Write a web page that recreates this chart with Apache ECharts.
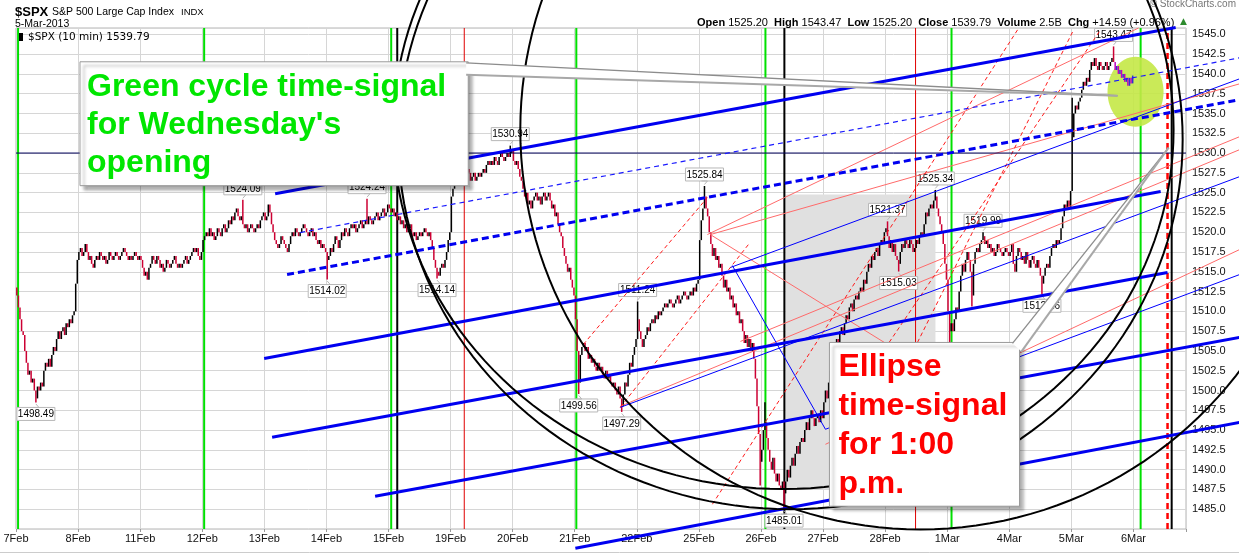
<!DOCTYPE html>
<html>
<head>
<meta charset="utf-8">
<script src="https://cdn.jsdelivr.net/npm/echarts@6/dist/echarts.min.js"></script>
<style>html,body{margin:0;padding:0;background:#fff}#c{width:1239px;height:554px}</style>
</head>
<body>
<div id="c"></div>
<script>
// ---------------- DATA ----------------
const BARS_PER_DAY = 39;           // 10-minute bars per session
const TOTAL_SLOTS = 735;           // 18 sessions + part of 6Mar (empty)
const dayLabels = ['7Feb','8Feb','11Feb','12Feb','13Feb','14Feb','15Feb','19Feb','20Feb','21Feb','22Feb','25Feb','26Feb','27Feb','28Feb','1Mar','4Mar','5Mar','6Mar'];
const Y_MIN = 1482.5, Y_MAX = 1545.8, Y_STEP = 2.5;

const firstOpen = 1513.0;
const close7Feb  = [1512.0,1510.5,1509.0,1507.5,1507.0,1505.0,1503.5,1502.0,1502.5,1501.0,1501.5,1500.0,1499.0,1500.5,1500.0,1501.0,1500.5,1502.5,1503.5,1503.0,1504.0,1503.0,1504.5,1505.5,1505.0,1506.5,1507.5,1506.5,1507.5,1508.0,1507.0,1508.5,1508.0,1509.0,1508.5,1509.5,1510.0,1513.5,1516.5];
const close8Feb  = [1517.5,1518.0,1517.0,1517.5,1518.5,1517.5,1516.5,1517.0,1516.0,1515.5,1516.5,1517.0,1516.5,1517.5,1517.0,1516.5,1517.0,1516.0,1516.5,1517.5,1517.0,1516.5,1517.0,1517.5,1517.0,1516.5,1517.0,1517.5,1518.0,1517.5,1517.0,1516.5,1517.0,1516.5,1517.0,1517.5,1517.0,1516.5,1517.0];
const close11Feb = [1516.5,1515.5,1514.5,1515.0,1514.0,1515.5,1516.0,1517.0,1516.5,1516.0,1517.0,1516.5,1515.5,1516.0,1515.0,1515.5,1516.5,1516.0,1515.5,1516.0,1516.5,1517.0,1516.0,1515.5,1516.0,1515.5,1516.0,1516.5,1517.0,1516.0,1516.5,1517.0,1517.5,1518.0,1517.5,1518.0,1517.0,1516.5,1517.5];
const close12Feb = [1519.0,1519.5,1520.0,1519.5,1520.5,1519.5,1520.0,1519.0,1519.5,1520.5,1520.0,1519.5,1520.5,1521.0,1520.0,1520.5,1521.5,1521.0,1522.0,1521.5,1522.5,1523.0,1522.0,1521.5,1522.0,1521.0,1520.5,1521.0,1520.0,1520.5,1521.0,1520.5,1520.0,1520.5,1521.0,1520.5,1521.5,1522.0,1522.5];
const close13Feb = [1521.5,1522.0,1523.5,1522.5,1521.0,1520.0,1519.0,1518.5,1518.0,1518.5,1519.5,1519.0,1518.5,1518.0,1517.5,1518.5,1519.5,1520.0,1519.5,1520.5,1520.0,1519.5,1520.0,1520.5,1521.0,1520.5,1520.0,1519.5,1520.0,1520.5,1519.5,1520.0,1519.0,1518.5,1519.0,1518.0,1518.5,1518.0,1517.5];
const close14Feb = [1516.5,1517.0,1518.0,1517.5,1518.5,1519.5,1519.0,1518.0,1519.0,1520.0,1519.5,1520.5,1520.0,1519.5,1520.5,1521.0,1520.5,1521.0,1520.0,1520.5,1521.0,1521.5,1520.5,1521.0,1521.5,1521.0,1522.0,1521.5,1521.0,1521.5,1522.0,1522.5,1521.5,1522.0,1522.5,1523.0,1522.0,1522.5,1523.5];
const close15Feb = [1523.0,1522.5,1523.0,1522.0,1522.5,1521.5,1522.0,1521.0,1521.5,1520.5,1521.0,1520.0,1520.5,1521.0,1520.0,1519.5,1520.0,1519.0,1519.5,1520.0,1519.5,1520.0,1520.5,1520.0,1519.5,1520.0,1519.0,1518.0,1516.5,1515.5,1515.0,1514.5,1515.5,1516.0,1515.5,1516.5,1517.5,1519.0,1520.0];
const close19Feb = [1524.5,1525.5,1526.0,1527.0,1526.5,1527.5,1527.0,1526.5,1527.0,1527.5,1528.0,1527.5,1526.5,1527.0,1527.5,1526.5,1527.0,1527.5,1527.0,1527.5,1528.0,1527.5,1528.5,1529.0,1528.5,1529.0,1528.5,1529.5,1529.0,1528.5,1529.5,1530.0,1529.5,1529.0,1529.5,1530.0,1529.5,1530.0,1530.5];
const close20Feb = [1529.0,1528.5,1529.0,1528.0,1527.0,1526.5,1525.5,1524.5,1525.0,1523.5,1524.0,1523.0,1524.0,1524.5,1525.0,1524.0,1524.5,1523.5,1524.5,1525.0,1524.0,1524.5,1525.0,1524.0,1523.0,1523.5,1522.0,1522.5,1521.0,1520.0,1519.5,1518.0,1517.0,1516.0,1515.0,1515.5,1514.0,1513.0,1512.0];
const close21Feb = [1509.0,1505.0,1501.0,1504.5,1505.5,1506.0,1505.0,1505.5,1504.0,1504.5,1503.5,1504.0,1503.0,1502.5,1503.5,1502.5,1503.0,1502.0,1501.5,1502.5,1501.5,1502.0,1501.0,1500.5,1501.0,1500.0,1499.5,1500.5,1499.0,1498.0,1499.5,1501.0,1500.5,1502.0,1503.5,1503.0,1504.5,1505.5,1506.5];
const close22Feb = [1509.0,1507.5,1506.5,1505.5,1506.5,1507.0,1508.0,1507.5,1508.5,1509.0,1508.5,1509.5,1509.0,1510.0,1509.5,1510.0,1510.5,1511.0,1510.5,1511.0,1511.5,1511.0,1510.5,1511.0,1511.5,1512.0,1511.0,1511.5,1512.0,1512.5,1512.0,1511.5,1512.0,1512.5,1512.0,1513.0,1512.5,1513.5,1514.0];
const close25Feb = [1519.0,1521.5,1523.0,1524.5,1523.0,1522.0,1520.0,1518.5,1517.0,1518.0,1516.5,1517.0,1515.5,1516.0,1514.5,1513.0,1514.0,1512.5,1513.0,1511.5,1512.0,1510.5,1511.0,1509.5,1510.0,1508.5,1509.0,1507.5,1506.0,1507.0,1505.5,1506.5,1505.0,1506.0,1504.0,1501.5,1498.0,1494.5,1491.0];
const close26Feb = [1492.5,1495.0,1496.0,1494.0,1492.5,1491.0,1490.0,1491.5,1489.5,1488.5,1489.5,1488.0,1487.5,1488.5,1487.0,1488.5,1490.0,1489.0,1490.5,1491.5,1490.5,1492.0,1493.0,1492.0,1493.5,1494.0,1493.5,1495.0,1496.0,1495.0,1496.5,1497.5,1496.5,1495.5,1496.5,1497.0,1496.0,1497.5,1496.5];
const close27Feb = [1498.5,1500.0,1499.0,1501.0,1502.5,1504.0,1503.0,1505.0,1506.5,1506.0,1507.5,1508.0,1507.0,1508.5,1509.5,1509.0,1510.5,1511.0,1510.0,1511.5,1512.0,1511.5,1512.5,1513.0,1512.5,1514.0,1513.5,1515.0,1516.0,1515.5,1517.0,1516.5,1517.5,1518.0,1517.0,1518.5,1519.0,1518.5,1520.0];
const close28Feb = [1520.5,1519.5,1518.0,1519.0,1517.5,1518.5,1517.0,1516.5,1516.0,1517.5,1518.5,1518.0,1519.0,1518.5,1518.0,1519.0,1518.5,1517.5,1518.0,1519.0,1518.5,1519.5,1520.0,1519.5,1521.0,1522.5,1522.0,1523.0,1523.5,1523.0,1524.0,1524.5,1523.0,1522.0,1521.0,1520.0,1518.5,1516.0,1514.0];
const close1Mar  = [1510.0,1507.5,1508.5,1507.5,1509.0,1510.5,1510.0,1512.5,1514.5,1516.0,1515.0,1516.5,1517.5,1516.5,1515.0,1512.0,1516.0,1517.5,1518.0,1517.5,1518.5,1519.0,1519.5,1518.5,1519.0,1518.0,1518.5,1517.5,1518.0,1517.0,1517.5,1518.5,1518.0,1517.5,1517.0,1517.5,1518.0,1517.5,1517.0];
const close4Mar  = [1517.5,1518.5,1516.0,1515.0,1517.0,1518.0,1517.5,1516.5,1517.0,1516.0,1517.5,1516.5,1515.5,1516.5,1517.0,1516.0,1515.5,1516.5,1515.5,1514.5,1513.5,1514.5,1515.5,1516.0,1515.5,1517.0,1518.0,1518.5,1518.0,1519.0,1518.5,1519.0,1520.5,1522.0,1523.5,1523.0,1524.0,1523.0,1525.2];
const close5Mar  = [1532.0,1535.0,1536.0,1535.5,1536.5,1537.0,1538.0,1539.0,1538.5,1539.5,1539.0,1540.5,1541.5,1541.0,1542.0,1541.0,1540.5,1541.5,1541.0,1540.5,1541.0,1541.5,1540.5,1541.0,1541.5,1542.0,1541.5,1540.5,1541.0,1540.0,1540.5,1539.5,1540.0,1539.0,1539.5,1538.5,1539.5,1538.8,1539.79];
const dayCloses = [close7Feb,close8Feb,close11Feb,close12Feb,close13Feb,close14Feb,close15Feb,close19Feb,close20Feb,close21Feb,close22Feb,close25Feb,close26Feb,close27Feb,close28Feb,close1Mar,close4Mar,close5Mar];

// bar extremes: [dayIndex, barIndex, kind, value, labelled]
const barExtremes = [
  [0,12,'low',1498.49,true], [3,25,'high',1524.09,true], [5,0,'low',1514.02,true],
  [5,25,'high',1524.24,true], [6,30,'low',1514.14,true], [7,37,'high',1530.94,true],
  [9,2,'low',1499.56,true], [9,29,'low',1497.29,true], [10,0,'high',1511.24,true],
  [11,3,'high',1525.84,true], [11,38,'low',1488.0,false], [12,2,'high',1498.5,false],
  [12,14,'low',1485.01,true], [14,1,'high',1521.37,true], [14,8,'low',1515.03,true],
  [14,31,'high',1525.34,true], [15,1,'low',1506.0,false], [15,15,'low',1510.6,false],
  [15,22,'high',1519.99,true], [16,20,'low',1512.16,true], [17,0,'high',1537.0,false],
  [17,26,'high',1543.47,true]
];
const highlightDay = 17, highlightFrom = 27;

// annotation geometry in chart units (bar slot, price)
const greenCycleLines = [1.3, 118.2, 235.7, 352.0, 470.8, 587.7, 706.5];
const blackTimeLines = [239.5, 482.7, 726.0];
const redTimeLines = [281.6, 565.1];
const redDashedTimeLines = [723.4];
const thickBlueLines = [
  [162.8,1524.87,728.5,1545.87],[155.9,1504.05,719.1,1525.13],[160.9,1494.08,723.4,1514.91],
  [225.6,1486.64,768.7,1506.70],[351.4,1480.08,768.7,1495.98]];
const thickBlueDashed = [[170.3,1514.65,768.7,1536.74]];
const thinBlueDashed = [[178.5,1519.95,768.7,1542.03]];
const thinBlueLines = [
  [448.8,1515.54,768.7,1539.38],[450.0,1515.79,508.5,1495.10],
  [379.6,1497.87,768.7,1527.02],[508.5,1495.10,768.7,1514.65]];
const horizontalLevel = [[0,1530,TOTAL_SLOTS,1530]];
const pinkLines = [
  [379.6,1498.0,768.7,1530.43],[436.2,1519.70,768.7,1538.75],[436.2,1519.70,547.5,1505.82],
  [508.5,1493.20,768.7,1517.81],[455.1,1506.20,768.7,1532.07],[434.3,1519.70,705.2,1545.80]];
const redDashedLines = [
  [356.4,1505.82,434.3,1524.37],[379.6,1497.87,460.1,1518.44],[437.5,1485.63,629.2,1545.57],
  [511.6,1495.10,681.3,1545.57],[566.3,1506.07,664.4,1545.57]];
const ellipses = [[482.1,1532.95,245.1,45.4],[486.5,1531.7,246.4,46.7],[568.2,1532.95,251.4,50.5]];
const highlightEllipse = [[703.3,1537.74,17.6,4.42]];
const shadedZone = [[483.3,1524.75,577.6,1487.52]];
const noteBoxes = [
  [40.2,1541.53,284.1,1525.88,0],
  [511.0,1506.07,630.4,1485.38,1]];
const noteTexts = [
  {color:'#00e600', lines:['Green cycle time-signal',"for Wednesday's",'opening']},
  {color:'#ff0000', lines:['Ellipse','time-signal','for 1:00','p.m.']}];
const calloutWedges = [
  [282.8,1541.4,692.0,1537.24,282.8,1539.89],
  [626.0,1505.95,724.1,1530.68,631.7,1504.94]];

// ---------------- BUILD ----------------
const bars = [];
let prevClose = firstOpen;
dayCloses.forEach((closes, d) => {
  closes.forEach((c, j) => {
    const o = prevClose;
    bars.push({pos: d*BARS_PER_DAY + j + 0.5, o, c, h: Math.max(o,c), l: Math.min(o,c),
               hl: d === highlightDay && j >= highlightFrom});
    prevClose = c;
  });
});
const priceLabels = [];
barExtremes.forEach(([d, j, kind, v, lab]) => {
  const b = bars[d*BARS_PER_DAY + j];
  if (kind === 'high') b.h = Math.max(b.h, v); else b.l = Math.min(b.l, v);
  if (lab) priceLabels.push([b.pos, v, kind === 'high' ? 1 : 0]);
});
const barColors = ['#000000','#cc0033','#3030d0','#c000c0'];
const barData = bars.map(b => [b.pos, b.l, b.h, (b.hl ? 2 : 0) + (b.c >= b.o ? 0 : 1)]);

const FONT = '"Liberation Sans", Arial, sans-serif';

function segSeries(name, data, style, z) {
  return {
    name, type: 'custom', z, silent: true, clip: false, data,
    renderItem(params, api) {
      const a = api.coord([api.value(0), api.value(1)]);
      const b = api.coord([api.value(2), api.value(3)]);
      return {type: 'line', shape: {x1: a[0], y1: a[1], x2: b[0], y2: b[1]}, style: Object.assign({fill: 'none'}, style)};
    }
  };
}
function vSeries(name, xs, style, z) {
  return segSeries(name, xs.map(x => [x, Y_MIN, x, Y_MAX]), style, z);
}
function ellipseSeries(name, data, style, z) {
  return {
    name, type: 'custom', z, silent: true, clip: false, data,
    renderItem(params, api) {
      const c = api.coord([api.value(0), api.value(1)]);
      const rx = api.size([api.value(2), 0])[0];
      const ry = api.size([0, api.value(3)])[1];
      const pts = [];
      for (let k = 0; k <= 180; k++) {
        const t = k / 180 * Math.PI * 2;
        pts.push([c[0] + rx * Math.cos(t), c[1] + ry * Math.sin(t)]);
      }
      return {type: 'polyline', shape: {points: pts}, style: Object.assign({fill: 'none'}, style)};
    }
  };
}

const series = [
  { // shaded zone
    type: 'custom', z: 1, silent: true, data: shadedZone,
    renderItem(params, api) {
      const a = api.coord([api.value(0), api.value(1)]);
      const b = api.coord([api.value(2), api.value(3)]);
      return {type: 'rect', shape: {x: a[0], y: a[1], width: b[0]-a[0], height: b[1]-a[1]}, style: {fill: '#e0e0e0'}};
    }
  },
  vSeries('green', greenCycleLines, {stroke: '#00e000', lineWidth: 2}, 2),
  vSeries('red', redTimeLines, {stroke: '#e00000', lineWidth: 1}, 2),
  vSeries('black', blackTimeLines, {stroke: '#000', lineWidth: 2}, 2),
  vSeries('reddash', redDashedTimeLines, {stroke: '#ff0000', lineWidth: 2.5, lineDash: [6, 4]}, 2),
  { // highlight ellipse
    type: 'custom', z: 3, silent: true, clip: false, data: highlightEllipse,
    renderItem(params, api) {
      const c = api.coord([api.value(0), api.value(1)]);
      const rx = api.size([api.value(2), 0])[0];
      const ry = api.size([0, api.value(3)])[1];
      return {type: 'ellipse', shape: {cx: c[0], cy: c[1], rx, ry}, style: {fill: 'rgba(196,232,70,0.9)', stroke: 'none'}};
    }
  },
  { // OHLC bars
    name: '$SPX', type: 'custom', z: 4, silent: true, clip: true, data: barData,
    renderItem(params, api) {
      const x = api.value(0);
      const p1 = api.coord([x, api.value(2)]);
      const p2 = api.coord([x, api.value(1)]);
      let y1 = p1[1], y2 = p2[1];
      if (y2 - y1 < 1.5) { const m = (y1 + y2) / 2; y1 = m - 0.75; y2 = m + 0.75; }
      return {type: 'line', shape: {x1: p1[0], y1, x2: p1[0], y2}, style: {stroke: barColors[api.value(3)], lineWidth: 1.5}};
    }
  },
  { // price labels
    type: 'custom', z: 5, silent: true, clip: false, data: priceLabels,
    renderItem(params, api) {
      const v = api.value(1), hi = api.value(2) === 1;
      const p = api.coord([api.value(0), v]);
      const w = 38, h = 13;
      const top = hi ? p[1] - 5 - h : p[1] + 5;
      const tip = hi ? [[p[0]-3, p[1]-5], [p[0]+3, p[1]-5], [p[0], p[1]-1.5]] : [[p[0]-3, p[1]+5], [p[0]+3, p[1]+5], [p[0], p[1]+1.5]];
      return {type: 'group', children: [
        {type: 'rect', shape: {x: p[0]-w/2, y: top, width: w, height: h}, style: {fill: '#fff', stroke: '#b8b8b8', lineWidth: 1}},
        {type: 'polyline', shape: {points: tip}, style: {fill: 'none', stroke: '#b8b8b8', lineWidth: 1}},
        {type: 'text', style: {text: v.toFixed(2), x: p[0], y: top + h/2 + 0.5, align: 'center', verticalAlign: 'middle', font: '10px ' + FONT, fill: '#000'}}
      ]};
    }
  },
  segSeries('pink', pinkLines, {stroke: '#ff6a6a', lineWidth: 1}, 6),
  segSeries('reddashed', redDashedLines, {stroke: '#ff1a1a', lineWidth: 1, lineDash: [4, 3]}, 6),
  segSeries('level', horizontalLevel, {stroke: '#00005a', lineWidth: 1}, 6),
  segSeries('thinblue', thinBlueLines, {stroke: '#0000ff', lineWidth: 1}, 6),
  segSeries('thinbluedash', thinBlueDashed, {stroke: '#1a1aff', lineWidth: 1.2, lineDash: [5, 4]}, 6),
  segSeries('thickbluedash', thickBlueDashed, {stroke: '#0000f0', lineWidth: 3, lineDash: [7, 4]}, 6),
  segSeries('thickblue', thickBlueLines, {stroke: '#0000f0', lineWidth: 3}, 6),
  ellipseSeries('ellipses', ellipses, {stroke: '#000', lineWidth: 2}, 7),
  { // note boxes
    type: 'custom', z: 8, silent: true, clip: false, data: noteBoxes,
    renderItem(params, api) {
      const a = api.coord([api.value(0), api.value(1)]);
      const b = api.coord([api.value(2), api.value(3)]);
      const nt = noteTexts[api.value(4)];
      const gap = nt.lines.length === 3 ? 38 : 39;
      const children = [{type: 'rect', shape: {x: a[0], y: a[1], width: b[0]-a[0], height: b[1]-a[1]},
        style: {fill: '#fff', stroke: '#9a9a9a', lineWidth: 1, shadowBlur: 3, shadowOffsetX: 4, shadowOffsetY: 4, shadowColor: 'rgba(0,0,0,0.35)'}}];
      nt.lines.forEach((t, i) => children.push({type: 'text', style: {text: t, x: a[0] + (nt.lines.length === 3 ? 7 : 9), y: a[1] + 25 + i*gap,
        align: 'left', verticalAlign: 'middle', font: 'bold 32px ' + FONT, fill: nt.color}}));
      return {type: 'group', children};
    }
  },
  { // callout wedges
    type: 'custom', z: 9, silent: true, clip: false, data: calloutWedges,
    renderItem(params, api) {
      const a = api.coord([api.value(0), api.value(1)]);
      const t = api.coord([api.value(2), api.value(3)]);
      const b = api.coord([api.value(4), api.value(5)]);
      return {type: 'group', children: [
        {type: 'polygon', shape: {points: [a, t, b]}, style: {fill: '#ffffff', stroke: 'none'}},
        {type: 'line', shape: {x1: a[0], y1: a[1], x2: t[0], y2: t[1]}, style: {stroke: '#8c8c8c', lineWidth: 1.3}},
        {type: 'line', shape: {x1: b[0], y1: b[1], x2: t[0], y2: t[1]}, style: {stroke: '#a8a8a8', lineWidth: 2}}
      ]};
    }
  }
];

const isStep = v => Math.abs(v / Y_STEP - Math.round(v / Y_STEP)) < 1e-6;
const option = {
  animation: false,
  backgroundColor: '#ffffff',
  grid: {left: 16, right: 53, top: 28, bottom: 25, show: true, borderColor: '#b4b4b4', borderWidth: 1, backgroundColor: '#fff'},
  xAxis: {
    type: 'value', min: 0, max: TOTAL_SLOTS, interval: BARS_PER_DAY,
    axisLine: {show: false},
    axisTick: {show: true, length: 3, lineStyle: {color: '#999'}},
    axisLabel: {margin: 4, color: '#111', fontFamily: 'Liberation Sans', fontSize: 11,
      formatter: v => (v % BARS_PER_DAY === 0 && dayLabels[v / BARS_PER_DAY]) ? dayLabels[v / BARS_PER_DAY] : ''},
    splitLine: {show: true, lineStyle: {color: '#d6d6d6', width: 1}}
  },
  yAxis: {
    type: 'value', position: 'right', min: Y_MIN, max: Y_MAX, interval: Y_STEP,
    axisLine: {show: false}, axisTick: {show: false},
    axisLabel: {margin: 6, color: '#111', fontFamily: 'Liberation Sans', fontSize: 11,
      formatter: v => (isStep(v) && v >= 1484 && v <= 1545.1) ? v.toFixed(1) : ''},
    splitLine: {show: true, lineStyle: {color: '#d6d6d6', width: 1}}
  },
  graphic: [
    {type: 'text', x: 15, y: 12, style: {text: '$SPX', font: 'bold 13px ' + FONT, fill: '#000', verticalAlign: 'middle'}},
    {type: 'text', x: 52, y: 12, style: {text: 'S&P 500 Large Cap Index', font: '10.5px ' + FONT, fill: '#000', verticalAlign: 'middle'}},
    {type: 'text', x: 181, y: 12, style: {text: 'INDX', font: '9.5px ' + FONT, fill: '#000', verticalAlign: 'middle'}},
    {type: 'text', x: 15, y: 24, style: {text: '5-Mar-2013', font: '10.5px ' + FONT, fill: '#000', verticalAlign: 'middle'}},
    {type: 'rect', shape: {x: 19, y: 33, width: 4, height: 8}, style: {fill: '#000'}, z: 100},
    {type: 'text', x: 28, y: 37, z: 100, style: {text: '$SPX (10 min) 1539.79', font: '10.5px "DejaVu Sans", sans-serif', fill: '#000', verticalAlign: 'middle'}},
    {type: 'text', x: 697, y: 23, style: {
      text: '{b|Open} 1525.20  {b|High} 1543.47  {b|Low} 1525.20  {b|Close} 1539.79  {b|Volume} 2.5B  {b|Chg} +14.59 (+0.96%)',
      font: '11px ' + FONT, fill: '#000', verticalAlign: 'middle',
      rich: {b: {font: 'bold 11px ' + FONT, fill: '#000'}}}},
    {type: 'text', x: 1180, y: 22, style: {text: '▲', font: '9px "DejaVu Sans", sans-serif', fill: '#2e8b2e', verticalAlign: 'middle'}},
    {type: 'text', x: 1236, y: 4, style: {text: '© StockCharts.com', font: '10px ' + FONT, fill: '#777', align: 'right', verticalAlign: 'middle'}},
    {type: 'line', shape: {x1: 0, y1: 552.5, x2: 1239, y2: 552.5}, style: {stroke: '#cccccc', lineWidth: 1}}
  ],
  series
};
const chart = echarts.init(document.getElementById('c'), null, {renderer: 'canvas', devicePixelRatio: 1});
chart.setOption(option);
</script>
</body>
</html>
